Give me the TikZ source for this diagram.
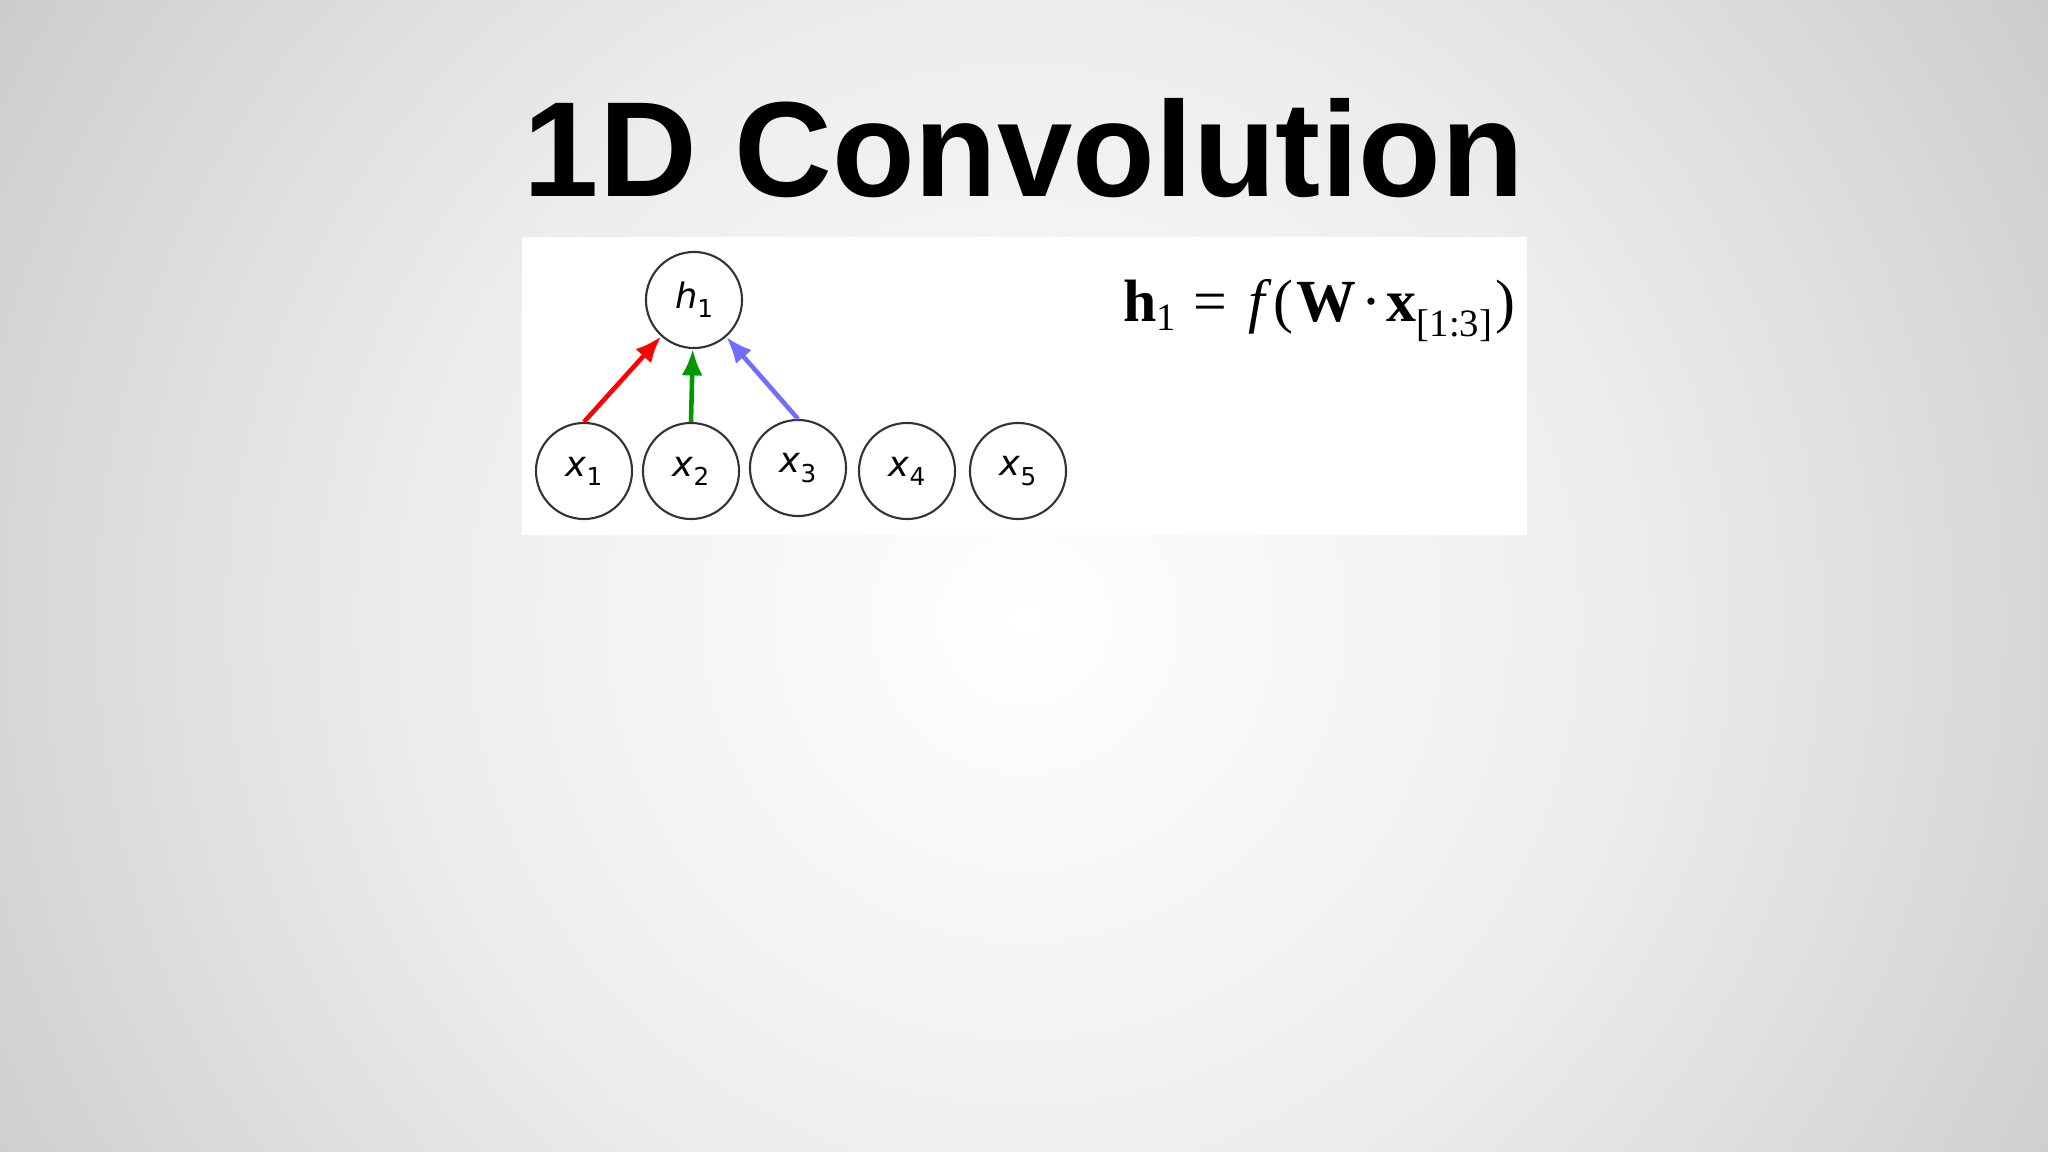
\documentclass[tikz,border=0pt]{standalone}
\usepackage{fontspec}
\usetikzlibrary{arrows.meta}

\newfontfamily\titlefont{Liberation Sans}
\newfontfamily\labelfont{DejaVu Sans}
\newfontfamily\eqfont{Liberation Serif}

% variable with a small lowered index, as in the cells
\newcommand{\cellvar}[2]{{\itshape #1}\raisebox{-2.6pt}{\fontsize{7}{8}\selectfont #2}}
\newcommand{\eqsub}[2]{\raisebox{#1}{\fontsize{11}{12}\selectfont #2}}

% slide background, light in the middle
\pgfdeclareradialshading{slidebg}{\pgfpoint{0bp}{0bp}}{%
    color(0bp)=(white); color(12bp)=(white!93!black);
    color(20.5bp)=(white!84!black); color(25bp)=(white!79!black);
    color(50bp)=(white!79!black)}

\tikzset{
    cell/.style={circle, draw=black!80, line width=0.6pt, fill=white,
        minimum size=0.96cm, inner sep=0pt, font=\labelfont\fontsize{10}{12}\selectfont},
    feed/.style={-{Latex[length=7.5pt,width=6pt]}, line width=1.3pt}
}

\begin{document}
\begin{tikzpicture}[x=0.01cm, y=-0.01cm]
    \useasboundingbox (0,0) rectangle (2048,1152);
    \clip (0,0) rectangle (2048,1152);
    \shade[shading=slidebg] (-226,-630) rectangle (2274,1870);

    \node[font=\titlefont\bfseries\fontsize{38.5}{40}\selectfont, anchor=base] (title) at (1024,197) {1D Convolution};

    % white panel
    \fill[white] (522,237) rectangle (1527,535);

    \node[cell] (h1) at (694,300) {\cellvar{h}{1}};
    \node[cell] (x1) at (584,471) {\cellvar{x}{1}};
    \node[cell] (x2) at (691,471) {\cellvar{x}{2}};
    \node[cell] (x3) at (798,468) {\cellvar{x}{3}};
    \node[cell] (x4) at (907,471) {\cellvar{x}{4}};
    \node[cell] (x5) at (1018,471) {\cellvar{x}{5}};

    % filter weights
    \draw[feed, red] (x1.north) -- (h1);
    \draw[feed, green!60!black] (x2.north) -- (h1);
    \draw[feed, blue!57] (x3.north) -- (h1);

    \node[font=\eqfont\fontsize{17}{20}\selectfont, anchor=base west, inner sep=0pt] (eq) at (1123,322)
        {\textbf{h}\eqsub{-2.3pt}{1}\kern4.8pt=\kern6pt\textit{f}\kern0.5pt(\kern1pt\textbf{W}\kern1.5pt·\kern1.5pt\textbf{x}\eqsub{-4pt}{[1:3]}\kern1pt)};
\end{tikzpicture}
\end{document}
